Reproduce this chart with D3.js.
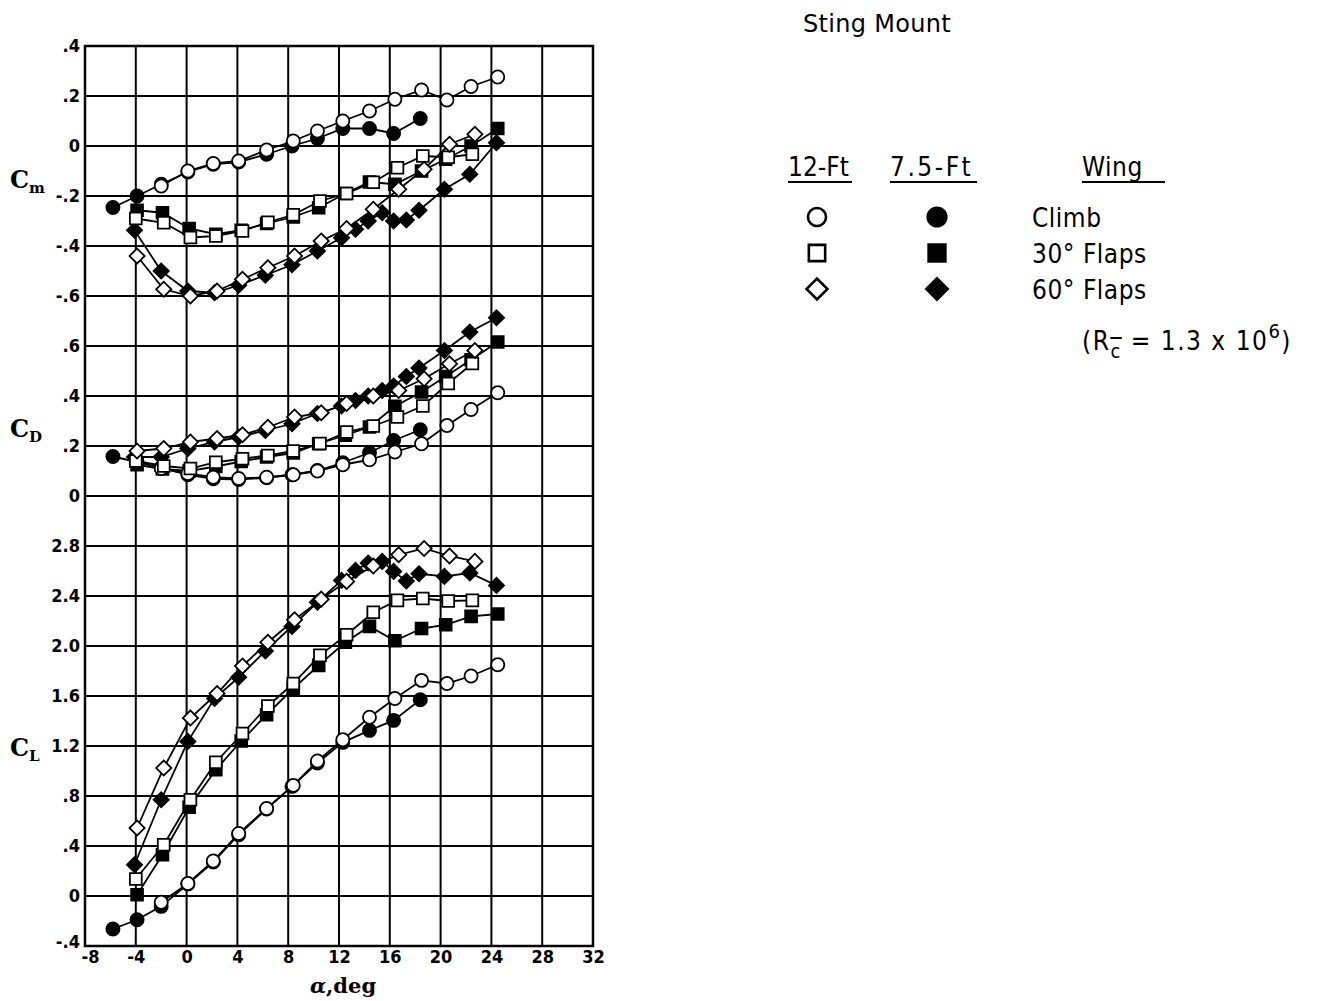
<!DOCTYPE html>
<html><head><meta charset="utf-8">
<script src="https://cdn.jsdelivr.net/npm/d3@7"></script>
<style>body{margin:0;background:#fff} svg{display:block}</style>
</head><body><svg id="c" width="1318" height="1001"></svg>
<script>
// ---------- tick values / labels ----------
const alphaTicks = [-8,-4,0,4,8,12,16,20,24,28,32];
const alphaTickLabels = ["-8","-4","0","4","8","12","16","20","24","28","32"];
const cmTicks = [0.4,0.2,0,-0.2,-0.4,-0.6];
const cmTickLabels = [".4",".2","0","-.2","-.4","-.6"];
const cdTicks = [0.6,0.4,0.2,0];
const cdTickLabels = [".6",".4",".2","0"];
const clTicks = [2.8,2.4,2.0,1.6,1.2,0.8,0.4,0,-0.4];
const clTickLabels = ["2.8","2.4","2.0","1.6","1.2",".8",".4","0","-.4"];

// ---------- data: Climb wing ----------
const climb12Alpha = [-2.0,0.1,2.1,4.1,6.3,8.4,10.3,12.3,14.4,16.4,18.5,20.5,22.4,24.5];
const climb12Cm = [-0.16,-0.10,-0.07,-0.06,-0.016,0.02,0.06,0.10,0.14,0.187,0.224,0.184,0.238,0.276];
const climb12Cd = [0.11,0.09,0.075,0.07,0.075,0.085,0.10,0.125,0.145,0.176,0.209,0.282,0.346,0.413];
const climb12Cl = [-0.05,0.1,0.28,0.5,0.7,0.885,1.08,1.25,1.43,1.58,1.725,1.70,1.76,1.85];

const climb75Alpha = [-5.8,-3.9,-2.0,0.1,2.1,4.1,6.3,8.3,10.3,12.3,14.4,16.3,18.4];
const climb75Cm = [-0.246,-0.20,-0.153,-0.104,-0.073,-0.064,-0.033,0.0,0.03,0.07,0.07,0.05,0.11];
const climb75Cd = [0.158,0.136,0.112,0.085,0.069,0.066,0.073,0.085,0.102,0.133,0.173,0.222,0.265];
const climb75Cl = [-0.264,-0.19,-0.083,0.096,0.272,0.49,0.696,0.877,1.064,1.229,1.325,1.405,1.57];

// ---------- data: 30 deg flaps ----------
const flap30x12Alpha = [-4.0,-1.8,0.3,2.3,4.4,6.4,8.4,10.5,12.6,14.7,16.6,18.6,20.6,22.5];
const flap30x12Cm = [-0.29,-0.307,-0.366,-0.36,-0.34,-0.305,-0.275,-0.22,-0.19,-0.145,-0.087,-0.04,-0.045,-0.033];
const flap30x12Cd = [0.14,0.12,0.11,0.135,0.149,0.162,0.18,0.21,0.256,0.28,0.316,0.36,0.45,0.53];
const flap30x12Cl = [0.136,0.41,0.77,1.07,1.30,1.52,1.70,1.925,2.09,2.27,2.365,2.38,2.36,2.365];

const flap30x75Alpha = [-3.9,-1.9,0.2,2.3,4.3,6.3,8.4,10.4,12.5,14.4,16.4,18.5,20.4,22.4,24.5];
const flap30x75Cm = [-0.257,-0.267,-0.33,-0.353,-0.337,-0.31,-0.284,-0.247,-0.19,-0.144,-0.153,-0.10,-0.053,0.0,0.07];
const flap30x75Cd = [0.125,0.108,0.10,0.118,0.138,0.156,0.172,0.209,0.243,0.276,0.359,0.416,0.478,0.545,0.616];
const flap30x75Cl = [0.01,0.33,0.71,1.01,1.24,1.45,1.66,1.845,2.03,2.157,2.042,2.14,2.17,2.237,2.256];

// ---------- data: 60 deg flaps ----------
const flap60x12Alpha = [-3.9,-1.8,0.3,2.4,4.4,6.4,8.5,10.6,12.6,14.7,16.7,18.7,20.7,22.7];
const flap60x12Cm = [-0.44,-0.573,-0.60,-0.58,-0.533,-0.487,-0.44,-0.38,-0.33,-0.253,-0.173,-0.093,0.007,0.047];
const flap60x12Cd = [0.18,0.19,0.216,0.23,0.245,0.275,0.316,0.333,0.37,0.40,0.422,0.469,0.529,0.582];
const flap60x12Cl = [0.544,1.024,1.424,1.62,1.84,2.03,2.21,2.375,2.517,2.64,2.73,2.78,2.72,2.677];

const flap60x75Alpha = [-4.1,-2.0,0.1,2.2,4.1,6.2,8.3,10.3,12.2,13.3,14.3,15.4,16.3,17.3,18.3,20.3,22.3,24.4];
const flap60x75Cm = [-0.337,-0.50,-0.58,-0.587,-0.557,-0.517,-0.475,-0.42,-0.367,-0.333,-0.30,-0.267,-0.30,-0.296,-0.257,-0.173,-0.113,0.013];
const flap60x75Cd = [0.156,0.156,0.19,0.216,0.236,0.262,0.289,0.33,0.36,0.382,0.40,0.422,0.44,0.478,0.512,0.582,0.656,0.713];
const flap60x75Cl = [0.25,0.77,1.237,1.58,1.75,1.96,2.157,2.35,2.525,2.605,2.664,2.677,2.597,2.52,2.578,2.557,2.584,2.485];

// ---------- legend text ----------
const tunnelNames = ["12-Ft","7.5-Ft"];
const wingNames = ["Climb","30° Flaps","60° Flaps"];

// ---------- series table ----------
const series = [
  {alpha:climb75Alpha, cm:climb75Cm, cd:climb75Cd, cl:climb75Cl, shape:"circle", filled:true},
  {alpha:flap30x75Alpha, cm:flap30x75Cm, cd:flap30x75Cd, cl:flap30x75Cl, shape:"square", filled:true},
  {alpha:flap60x75Alpha, cm:flap60x75Cm, cd:flap60x75Cd, cl:flap60x75Cl, shape:"diamond", filled:true},
  {alpha:climb12Alpha, cm:climb12Cm, cd:climb12Cd, cl:climb12Cl, shape:"circle", filled:false},
  {alpha:flap30x12Alpha, cm:flap30x12Cm, cd:flap30x12Cd, cl:flap30x12Cl, shape:"square", filled:false},
  {alpha:flap60x12Alpha, cm:flap60x12Cm, cd:flap60x12Cd, cl:flap60x12Cl, shape:"diamond", filled:false}
];

const svg = d3.select("#c");
const x = d3.scaleLinear().domain([-8,32]).range([85,593]);
const yCm = d3.scaleLinear().domain([-0.6,0.4]).range([296,46]);
const yCd = d3.scaleLinear().domain([0,0.6]).range([496,346]);
const yCl = d3.scaleLinear().domain([-0.4,2.8]).range([946,546]);
const gTop = 46, gBottom = 946, gLeft = 85, gRight = 593;

// grid
const grid = svg.append("g").attr("stroke","#000").attr("stroke-width",2).attr("fill","none");
alphaTicks.forEach(a => grid.append("line").attr("x1",x(a)).attr("x2",x(a)).attr("y1",gTop).attr("y2",gBottom));
[[cmTicks,yCm],[cdTicks,yCd],[clTicks,yCl]].forEach(([t,s]) =>
  t.forEach(v => grid.append("line").attr("x1",gLeft).attr("x2",gRight).attr("y1",s(v)).attr("y2",s(v))));
grid.append("rect").attr("x",gLeft).attr("y",gTop).attr("width",gRight-gLeft).attr("height",gBottom-gTop).attr("stroke-width",2.5);

// axes (labels only)
function styleAxis(g){
  g.select(".domain").remove();
  g.selectAll("line").remove();
  g.selectAll("text").style("font-family","'DejaVu Sans', sans-serif").style("font-weight","bold")
    .style("font-stretch","condensed").style("font-size","18px").attr("fill","#000");
}
svg.append("g").attr("transform",`translate(${gLeft},0)`)
  .call(d3.axisLeft(yCm).tickValues(cmTicks).tickFormat((d,i)=>cmTickLabels[i]).tickSize(0).tickPadding(5)).call(styleAxis);
svg.append("g").attr("transform",`translate(${gLeft},0)`)
  .call(d3.axisLeft(yCd).tickValues(cdTicks).tickFormat((d,i)=>cdTickLabels[i]).tickSize(0).tickPadding(5)).call(styleAxis);
const clAxis = svg.append("g").attr("transform",`translate(${gLeft},0)`)
  .call(d3.axisLeft(yCl).tickValues(clTicks).tickFormat((d,i)=>clTickLabels[i]).tickSize(0).tickPadding(5)).call(styleAxis);
clAxis.selectAll(".tick").filter(d => d === -0.4).select("text").attr("y",-4);
const xAxis = svg.append("g").attr("transform",`translate(0,${gBottom})`)
  .call(d3.axisBottom(x).tickValues(alphaTicks).tickFormat((d,i)=>alphaTickLabels[i]).tickSize(0).tickPadding(4)).call(styleAxis);
xAxis.selectAll(".tick").filter(d => d === -8).select("text").attr("x",5);

// coefficient labels
function coefLabel(sub, yBase){
  const t = svg.append("text").attr("x",10).attr("y",yBase)
    .style("font-family","'DejaVu Serif', serif").style("font-weight","bold").attr("fill","#000");
  t.append("tspan").style("font-size","24px").text("C");
  t.append("tspan").style("font-size","15px").attr("dy",5).text(sub);
}
coefLabel("m",188);
coefLabel("D",437);
coefLabel("L",756);

// x title
const xt = svg.append("text").attr("x",343).attr("y",993).attr("text-anchor","middle")
  .style("font-family","'DejaVu Serif', serif").style("font-weight","bold").style("font-size","21px");
xt.append("tspan").style("font-style","italic").text("α");
xt.append("tspan").text(",deg");

// markers
function symPath(shape, size){
  if(shape==="circle") return d3.symbol(d3.symbolCircle, size)();
  return d3.symbol(d3.symbolSquare, size)();
}
function drawMarker(g, shape, filled, cx, cy, scale){
  const sizes = {circle:135*scale, square:140*scale, diamond:115*scale};
  return g.append("path").attr("d", symPath(shape, sizes[shape]))
    .attr("transform", `translate(${cx},${cy})` + (shape==="diamond"?" rotate(45)":""))
    .attr("fill", filled?"#000":"#fff").attr("stroke","#000").attr("stroke-width",1.8);
}

const coefs = [["cm",yCm],["cd",yCd],["cl",yCl]];
const linesG = svg.append("g");
const marksG = svg.append("g");
series.forEach(s => {
  coefs.forEach(([k,ys]) => {
    const pts = s.alpha.map((a,i)=>[a, s[k][i]]);
    linesG.append("path").datum(pts)
      .attr("d", d3.line().x(d=>x(d[0])).y(d=>ys(d[1])))
      .attr("fill","none").attr("stroke","#000").attr("stroke-width",1.8);
  });
});
series.forEach(s => {
  coefs.forEach(([k,ys]) => {
    s.alpha.forEach((a,i) => drawMarker(marksG, s.shape, s.filled, x(a), ys(s[k][i]), 1));
  });
});

// ---------- legend ----------
const legFont = "'DejaVu Sans', sans-serif";
svg.append("text").attr("x",803).attr("y",32).text("Sting Mount")
  .style("font-family",legFont).style("font-size","24px").style("letter-spacing","0.3px");

const hdr = [[tunnelNames[0],788,852,0],[tunnelNames[1],890,977,2.5],["Wing",1082,1165,0.5]];
hdr.forEach(([t,x0,x1,ls]) => {
  svg.append("text").attr("x",x0).attr("y",176).text(t)
    .style("font-family",legFont).style("font-stretch","condensed").style("font-size","26px")
    .style("letter-spacing",ls+"px");
  svg.append("line").attr("x1",x0).attr("x2",x1).attr("y1",182).attr("y2",182).attr("stroke","#000").attr("stroke-width",2);
});
const shapes = ["circle","square","diamond"];
const rowY = [217,253,289];
shapes.forEach((sh,i) => {
  drawMarker(svg, sh, false, 817, rowY[i], 1.9).attr("stroke-width",2.6);
  drawMarker(svg, sh, true, 937, rowY[i], 2.2);
  svg.append("text").attr("x",1032).attr("y",rowY[i]+10).text(wingNames[i])
    .style("font-family",legFont).style("font-stretch","condensed").style("font-size","26px")
    .style("letter-spacing","0.5px");
});
const re = svg.append("text").attr("x",1082).attr("y",350)
  .style("font-family",legFont).style("font-stretch","condensed").style("font-size","26px")
  .style("letter-spacing","1.5px");
re.append("tspan").text("(R");
re.append("tspan").attr("dy",8).style("font-size","20px").style("text-decoration","overline").text("c");
re.append("tspan").attr("dy",-8).text(" = 1.3 x 10");
re.append("tspan").attr("dy",-12).style("font-size","20px").text("6");
re.append("tspan").attr("dy",12).text(")");
</script>
</body></html>
